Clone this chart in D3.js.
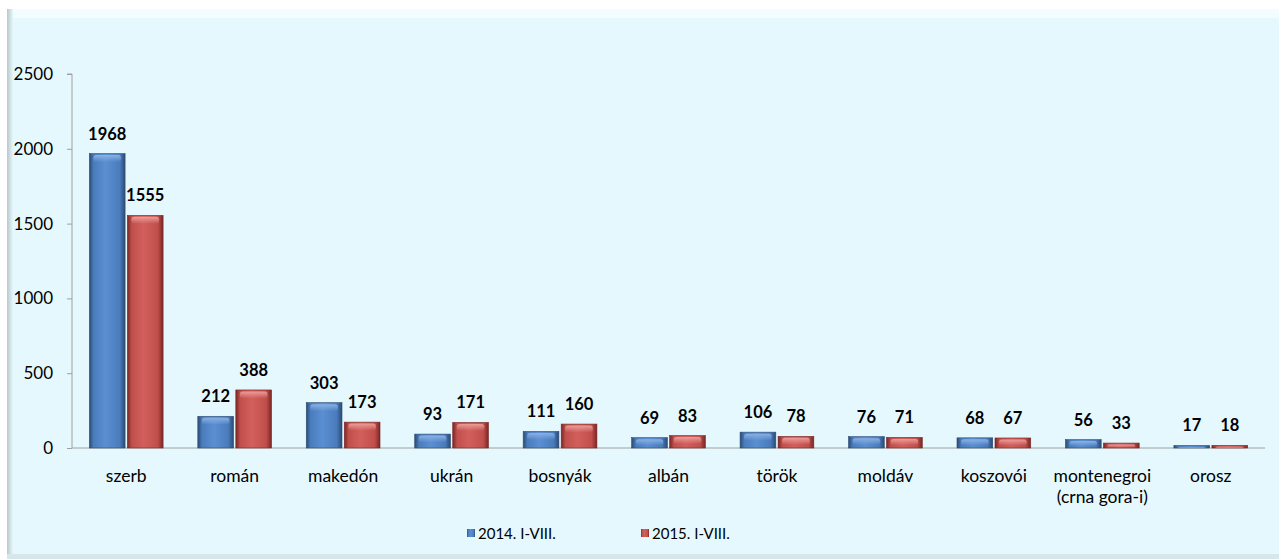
<!DOCTYPE html>
<html>
<head>
<meta charset="utf-8">
<script src="https://cdn.jsdelivr.net/npm/d3@7"></script>
<style>
  body { margin: 0; background: #ffffff; }
  svg { display: block; font-family: Lato, "Open Sans", sans-serif; }
</style>
</head>
<body>
<div id="chart"></div>
<script>
// data
const categories = ['szerb', 'román', 'makedón', 'ukrán', 'bosnyák', 'albán', 'török', 'moldáv', 'koszovói', 'montenegroi\n(crna gora-i)', 'orosz'];
const series2014 = [1968, 212, 303, 93, 111, 69, 106, 76, 68, 56, 17];
const series2015 = [1555, 388, 173, 171, 160, 83, 78, 71, 67, 33, 18];
const seriesNames = ['2014. I-VIII.', '2015. I-VIII.'];
const yTicks = [0, 500, 1000, 1500, 2000, 2500];

const W = 1279, H = 559;
const margin = { top: 74, right: 14, bottom: 111, left: 72 };
const innerW = W - margin.left - margin.right;
const innerH = H - margin.top - margin.bottom;

const svg = d3.select('#chart').append('svg')
    .attr('width', W).attr('height', H);

const defs = svg.append('defs');

// bar colors: [dark edge, body, light middle, cap]
const palette = [
    { id: 'blue', edge: '#2b4b74', body: '#4a7cbc', mid: '#5a8fd2', cap: '#8db3e6' },
    { id: 'red', edge: '#7a2624', body: '#c04f4c', mid: '#d25f5b', cap: '#eda09c' }
];

palette.forEach(p => {
    let g = defs.append('linearGradient').attr('id', 'grad-' + p.id)
        .attr('x1', 0).attr('x2', 1).attr('y1', 0).attr('y2', 0);
    g.append('stop').attr('offset', '0%').attr('stop-color', p.edge);
    g.append('stop').attr('offset', '12%').attr('stop-color', p.body);
    g.append('stop').attr('offset', '45%').attr('stop-color', p.mid);
    g.append('stop').attr('offset', '85%').attr('stop-color', p.body);
    g.append('stop').attr('offset', '100%').attr('stop-color', p.edge);

    let c = defs.append('linearGradient').attr('id', 'cap-' + p.id)
        .attr('x1', 0).attr('x2', 0).attr('y1', 0).attr('y2', 1);
    c.append('stop').attr('offset', '0%').attr('stop-color', p.cap).attr('stop-opacity', 0.95);
    c.append('stop').attr('offset', '100%').attr('stop-color', p.cap).attr('stop-opacity', 0);
});

// panel background
let lg = defs.append('linearGradient').attr('id', 'leftEdge')
    .attr('x1', 0).attr('x2', 1).attr('y1', 0).attr('y2', 0);
lg.append('stop').attr('offset', '0%').attr('stop-color', '#b9c6ca');
lg.append('stop').attr('offset', '100%').attr('stop-color', '#e5f8fd');

svg.append('rect').attr('x', 7).attr('y', 9).attr('width', W - 7).attr('height', H - 9 - 4)
    .attr('fill', '#e5f8fd');
svg.append('rect').attr('x', 7).attr('y', 9).attr('width', W - 7).attr('height', 9)
    .attr('fill', '#f3fcfe');
svg.append('rect').attr('x', 7).attr('y', 9).attr('width', 6).attr('height', H - 9 - 4)
    .attr('fill', 'url(#leftEdge)');
svg.append('rect').attr('x', 7).attr('y', H - 5).attr('width', W - 7).attr('height', 5)
    .attr('fill', '#d6e6ea');

const g = svg.append('g').attr('transform', `translate(${margin.left},${margin.top})`);

// scales
const x = d3.scaleBand().domain(categories).range([0, innerW]).paddingInner(0).paddingOuter(0);
const x1 = d3.scaleBand().domain([0, 1]).range([x.bandwidth() * 0.16, x.bandwidth() * 0.84]).paddingInner(0.06);
const y = d3.scaleLinear().domain([0, 2500]).range([innerH, 0]);

// y axis
const yAxis = g.append('g')
    .call(d3.axisLeft(y).tickValues(yTicks).tickSize(5).tickPadding(14).tickFormat(d3.format('d')));
yAxis.select('.domain').attr('stroke', '#a0a0a0').attr('d', `M-5,${y(2500)}H0V${innerH}`);
yAxis.selectAll('.tick line').attr('stroke', '#a0a0a0');
yAxis.selectAll('.tick text').attr('font-size', 17).attr('fill', '#000')
    .attr('font-family', 'Lato, sans-serif');

// x axis baseline
g.append('line').attr('x1', 0).attr('x2', innerW).attr('y1', innerH).attr('y2', innerH)
    .attr('stroke', '#a0a0a0');

// bars
const groups = g.selectAll('.cat').data(categories).enter().append('g')
    .attr('class', 'cat')
    .attr('transform', d => `translate(${x(d)},0)`);

const barData = (d, i) => [
    { s: 0, v: series2014[i] },
    { s: 1, v: series2015[i] }
];

groups.each(function (d, i) {
    let grp = d3.select(this);
    barData(d, i).forEach(b => {
        let p = palette[b.s];
        let bx = x1(b.s), bw = x1.bandwidth();
        let by = y(b.v), bh = innerH - y(b.v);
        grp.append('rect')
            .attr('x', bx).attr('y', by).attr('width', bw).attr('height', bh)
            .attr('fill', `url(#grad-${p.id})`)
            .attr('stroke', p.edge).attr('stroke-width', 0.6);
        // top bevel highlight
        let capH = Math.min(7, bh * 0.6);
        if (capH > 1) {
            grp.append('rect')
                .attr('x', bx + 4).attr('y', by + 1.5).attr('width', bw - 8).attr('height', capH)
                .attr('rx', 3)
                .attr('fill', `url(#cap-${p.id})`);
        }
        grp.append('text')
            .attr('x', bx + bw / 2).attr('y', by - 14)
            .attr('text-anchor', 'middle')
            .attr('font-size', 16.5).attr('font-weight', 'bold').attr('fill', '#000')
            .text(b.v);
    });
});

// category labels
groups.append('text')
    .attr('x', x.bandwidth() / 2)
    .attr('y', innerH + 34)
    .attr('text-anchor', 'middle')
    .attr('font-size', 17.5).attr('fill', '#000')
    .each(function (d) {
        let t = d3.select(this);
        d.split('\n').forEach((line, k) => {
            t.append('tspan').attr('x', x.bandwidth() / 2).attr('dy', k === 0 ? 0 : 21).text(line);
        });
    });

// legend
const legend = svg.append('g').attr('transform', `translate(0, 533)`);
const legendX = [467, 641];
seriesNames.forEach((name, i) => {
    let p = palette[i];
    legend.append('rect').attr('x', legendX[i]).attr('y', -4).attr('width', 8).attr('height', 8)
        .attr('fill', `url(#grad-${p.id})`);
    legend.append('text').attr('x', legendX[i] + 11).attr('y', 5.5)
        .attr('font-size', 15).attr('fill', '#000').text(name);
});
</script>
</body>
</html>
